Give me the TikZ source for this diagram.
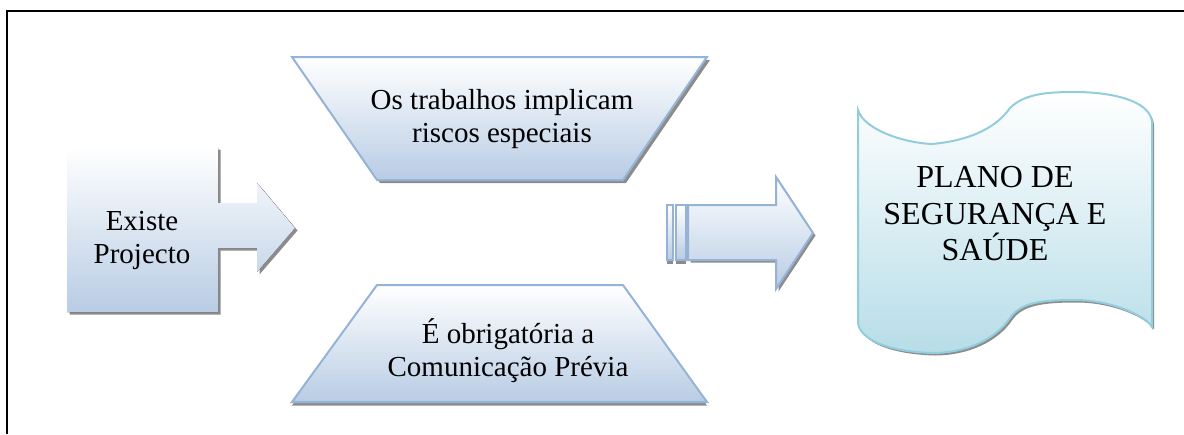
\documentclass[tikz,border=0pt]{standalone}
\usepackage{fontspec}
\setmainfont{Liberation Serif}
\definecolor{blueF}{RGB}{184,204,228}
\definecolor{blueL}{RGB}{149,179,215}
\definecolor{cyanF}{RGB}{183,221,232}
\definecolor{cyanL}{RGB}{146,205,220}
\definecolor{shad}{RGB}{140,140,140}
\tikzset{
  bluebox/.style={top color=white, bottom color=blueF},
  blueline/.style={draw=blueL, line width=2pt, line join=miter},
  cyanbox/.style={top color=white, bottom color=cyanF, draw=cyanL, line width=2pt},
  shadowfill/.style={fill=shad},
  lbl/.style={align=center, font=\fontsize{29}{33}\selectfont, inner sep=0pt},
  biglbl/.style={align=center, font=\fontsize{32}{36.5}\selectfont, inner sep=0pt}
}
\def\pathA{(67,147) -- (218,147) -- (218,203) -- (257,203) -- (257,183) -- (295,228) -- (257,272) -- (257,248) -- (218,248) -- (218,312) -- (67,312) -- cycle}
\def\pathB{(292,57) -- (707,57) -- (623,180) -- (377,180) -- cycle}
\def\pathC{(377,285) -- (623,285) -- (707,402) -- (292,402) -- cycle}
\def\pathD{(688,205) -- (776,205) -- (776,177) -- (813,233) -- (776,289) -- (776,260) -- (688,260) -- cycle}
\def\pathE{(858,110) .. controls (864,130) and (905,143) .. (932,144) .. controls (975,140) and (998,125) .. (1010,108) .. controls (1025,93) and (1050,92) .. (1075,92) .. controls (1110,92) and (1150,100) .. (1152,122) -- (1152,327) .. controls (1145,315) and (1110,300) .. (1075,300) .. controls (1040,300) and (1020,303) .. (1010,318) .. controls (995,340) and (965,353) .. (933,353) .. controls (890,352) and (860,340) .. (858,323) -- cycle}
\begin{document}
\begin{tikzpicture}[x=1pt,y=-1pt]
\useasboundingbox (0,0) rectangle (1184,434);
% frame
\draw[black, line width=2pt] (6.5,434) -- (6.5,10.5) -- (1184,10.5);
% left arrow
\fill[shadowfill, shift={(2.5,2.5)}] \pathA;
\fill[bluebox] \pathA;
% top trapezoid
\fill[shadowfill, shift={(3,3)}] \pathB;
\path[bluebox, blueline] \pathB;
% bottom trapezoid
\fill[shadowfill, shift={(0,3.5)}] \pathC;
\path[bluebox, blueline] \pathC;
% middle arrow
\fill[shadowfill, shift={(2.5,2.5)}] \pathD;
\fill[shadowfill] (667,205) rectangle (673,264);
\fill[shadowfill] (676,205) rectangle (686,264);
\path[bluebox, blueline] \pathD;
\path[bluebox, blueline] (667,205) rectangle (673,260);
\path[bluebox, blueline] (676,205) rectangle (686,260);
% wave
\fill[shadowfill, shift={(2,2.5)}] \pathE;
\path[cyanbox] \pathE;
% labels
\node[lbl] (existe) at (142,240) {Existe\\Projecto};
\node[lbl] (riscos) at (502,119) {Os trabalhos implicam\\riscos especiais};
\node[lbl] (comunic) at (508,351) {É obrigatória a\\Comunicação Prévia};
\node[biglbl] (plano) at (995,214) {PLANO DE\\SEGURANÇA E\\SAÚDE};
\end{tikzpicture}
\end{document}
